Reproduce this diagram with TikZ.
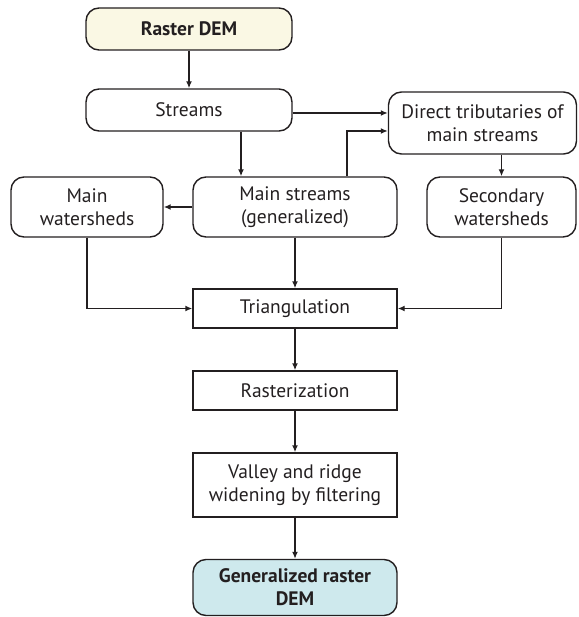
\documentclass[tikz,border=0pt]{standalone}
\usepackage{fontspec}
\usepackage{xcolor}
\setmainfont{PT Sans}
\usetikzlibrary{arrows.meta}

\definecolor{inkgrey}{RGB}{35,31,32}
\definecolor{demyellow}{RGB}{250,248,228}
\definecolor{genblue}{RGB}{206,233,237}

\tikzset{
  box/.style={draw=inkgrey, line width=1.4pt, align=center, inner sep=2pt,
    font=\fontsize{19.5}{23}\selectfont, text=inkgrey},
  roundbox/.style={box, rounded corners=13pt},
  squarebox/.style={box}
}

\begin{document}
\begin{tikzpicture}[->, >={Latex[length=7pt,width=6pt]}, x=1pt, y=-1pt,
  line width=1.4pt, draw=inkgrey]
  \useasboundingbox (0,0) rectangle (578,617);

  \node[roundbox, fill=demyellow, minimum width=206pt, minimum height=42pt,
        font=\fontsize{19.5}{23}\selectfont\bfseries]  (dem)    at (189,29)    {Raster DEM};
  \node[roundbox, minimum width=206pt, minimum height=42pt] (streams) at (189,110)   {Streams};
  \node[roundbox, minimum width=188pt, minimum height=62pt] (tribs)   at (482.5,123) {Direct tributaries of\\main streams};
  \node[roundbox, minimum width=152pt, minimum height=60pt] (mainws)  at (87,207)    {Main\\watersheds};
  \node[roundbox, minimum width=204pt, minimum height=60pt] (mainst)  at (295,207)   {Main streams\\(generalized)};
  \node[roundbox, minimum width=149pt, minimum height=60pt] (secws)   at (501.5,207) {Secondary\\watersheds};
  \node[squarebox, minimum width=204pt, minimum height=39pt] (tri)    at (295,308.5) {Triangulation};
  \node[squarebox, minimum width=204pt, minimum height=39pt] (rast)   at (295,390.5) {Rasterization};
  \node[squarebox, minimum width=204pt, minimum height=64pt] (valley) at (295,485)   {Valley and ridge\\widening by filtering};
  \node[roundbox, fill=genblue, minimum width=204pt, minimum height=56pt,
        font=\fontsize{19.5}{23}\selectfont\bfseries]  (gen)    at (295,587.5) {Generalized raster\\DEM};

  \draw (dem) -- (streams);
  \draw ([xshift=52pt]streams.south) -- ([xshift=52pt]streams.south |- mainst.north);
  \draw ([yshift=-3pt]streams.east) -- ([yshift=-3pt]streams.east -| tribs.west);
  \draw ([xshift=52pt]mainst.north) |- ([yshift=-8pt]tribs.west);
  \draw (tribs.south -| secws.north) -- (secws.north);
  \draw (mainst) -- (mainws);
  \draw (mainst) -- (tri);
  \draw (mainws.south) |- (tri.west);
  \draw (secws.south) |- (tri.east);
  \draw (tri) -- (rast);
  \draw (rast) -- (valley);
  \draw (valley) -- (gen);
\end{tikzpicture}
\end{document}
